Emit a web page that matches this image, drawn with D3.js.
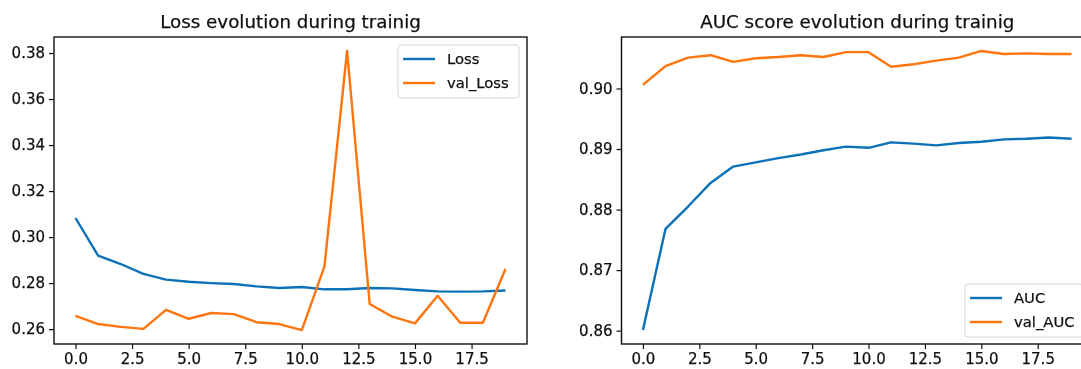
<!DOCTYPE html>
<html>
<head>
<meta charset="utf-8">
<script src="https://cdn.jsdelivr.net/npm/d3@7"></script>
<style>
    body { margin: 0; background: #fff; }
    svg { display: block; font-family: "DejaVu Sans", sans-serif; }
</style>
</head>
<body>
<div class="chart"></div>
<script>
// epochs on the x axis
var epochs = [0,1,2,3,4,5,6,7,8,9,10,11,12,13,14,15,16,17,18,19];

// left panel
var loss =    [0.3083,0.2919,0.2883,0.2840,0.2815,0.2806,0.2800,0.2796,0.2786,0.2779,
               0.2783,0.2773,0.2773,0.2779,0.2777,0.2770,0.2764,0.2763,0.2764,0.2768];
var valLoss = [0.2658,0.2622,0.2610,0.2601,0.2684,0.2645,0.2670,0.2665,0.2630,0.2622,
               0.2596,0.2873,0.3809,0.2709,0.2654,0.2625,0.2745,0.2628,0.2628,0.2861];

// right panel
var auc =    [0.8601,0.8768,0.8805,0.8844,0.8871,0.8878,0.8885,0.8891,0.8898,0.8904,
              0.8902,0.8911,0.8909,0.8906,0.8910,0.8912,0.8916,0.8917,0.8919,0.8917];
var valAuc = [0.9006,0.9037,0.9051,0.9055,0.9044,0.9050,0.9052,0.9055,0.9052,0.9060,
              0.9060,0.9036,0.9040,0.9046,0.9051,0.9062,0.9057,0.9058,0.9057,0.9057];

var xTicks = [0,2.5,5,7.5,10,12.5,15,17.5];
var lossTicks = [0.26,0.28,0.30,0.32,0.34,0.36,0.38];
var aucTicks = [0.86,0.87,0.88,0.89,0.90];

var blue = '#0a71b8', orange = '#ff7410';

var svg = d3.select('.chart').append('svg')
    .attr('width', 1081)
    .attr('height', 369);

svg.append('rect').attr('width', 1081).attr('height', 369).attr('fill', '#fff');

// the source picture is a bit soft, blur a little
svg.append('defs').append('filter')
    .attr('id', 'soft')
    .append('feGaussianBlur').attr('stdDeviation', 0.4);

var root = svg.append('g').attr('filter', 'url(#soft)');

drawPanel({
    left: 54, right: 527, top: 37, bottom: 344,
    title: 'Loss evolution during trainig',
    series: [{name: 'Loss', values: loss, color: blue}, {name: 'val_Loss', values: valLoss, color: orange}],
    yTicks: lossTicks,
    legend: {x: 398, y: 45, w: 121, h: 53}
});
drawPanel({
    left: 621.5, right: 1093, top: 37, bottom: 344,
    title: 'AUC score evolution during trainig',
    series: [{name: 'AUC', values: auc, color: blue}, {name: 'val_AUC', values: valAuc, color: orange}],
    yTicks: aucTicks,
    legend: {x: 965, y: 284, w: 118, h: 53}
});

function drawPanel(p) {
    var all = [];
    p.series.forEach(function(s){ all = all.concat(s.values); });
    var ext = d3.extent(all), pad = (ext[1]-ext[0])*0.05;
    var xPad = (d3.max(epochs)-d3.min(epochs))*0.05;

    var x = d3.scaleLinear()
        .domain([d3.min(epochs)-xPad, d3.max(epochs)+xPad])
        .range([p.left, p.right]);
    var y = d3.scaleLinear()
        .domain([ext[0]-pad, ext[1]+pad])
        .range([p.bottom, p.top]);

    var g = root.append('g');

    var line = d3.line()
        .x(function(d, i){ return x(epochs[i]); })
        .y(function(d){ return y(d); });

    p.series.forEach(function(s){
        g.append('path')
            .datum(s.values)
            .attr('fill', 'none')
            .attr('stroke', s.color)
            .attr('stroke-width', 2.4)
            .attr('stroke-linejoin', 'round')
            .attr('d', line);
    });

    var xAxis = g.append('g')
        .attr('transform', 'translate(0,' + p.bottom + ')')
        .call(d3.axisBottom(x).tickValues(xTicks).tickFormat(d3.format('.1f')).tickSize(5).tickPadding(4));
    var yAxis = g.append('g')
        .attr('transform', 'translate(' + p.left + ',0)')
        .call(d3.axisLeft(y).tickValues(p.yTicks).tickFormat(d3.format('.2f')).tickSize(5).tickPadding(4));
    [xAxis, yAxis].forEach(function(a){
        a.select('.domain').remove();
        a.selectAll('text').attr('font-size', 15).attr('fill', '#111')
            .attr('stroke', '#111').attr('stroke-width', 0.25)
            .attr('font-family', 'DejaVu Sans');
        a.selectAll('line').attr('stroke', '#111').attr('stroke-width', 1.2);
    });

    // frame
    g.append('rect')
        .attr('x', p.left).attr('y', p.top)
        .attr('width', p.right-p.left).attr('height', p.bottom-p.top)
        .attr('fill', 'none').attr('stroke', '#111').attr('stroke-width', 1.4);

    g.append('text')
        .attr('x', (p.left+p.right)/2)
        .attr('y', 27.5)
        .attr('text-anchor', 'middle')
        .attr('font-size', 18.3)
        .attr('fill', '#111')
        .attr('stroke', '#111').attr('stroke-width', 0.25)
        .text(p.title);

    var lg = g.append('g').attr('transform', 'translate(' + p.legend.x + ',' + p.legend.y + ')');
    lg.append('rect')
        .attr('width', p.legend.w).attr('height', p.legend.h)
        .attr('rx', 3)
        .attr('fill', '#fff').attr('fill-opacity', 0.8)
        .attr('stroke', '#d6d6d6');
    p.series.forEach(function(s, i){
        var ly = 14 + i*24;
        lg.append('line')
            .attr('x1', 5).attr('x2', 37)
            .attr('y1', ly).attr('y2', ly)
            .attr('stroke', s.color).attr('stroke-width', 2.4);
        lg.append('text')
            .attr('x', 49).attr('y', ly + 5)
            .attr('font-size', 14.8)
            .attr('fill', '#111')
            .attr('stroke', '#111').attr('stroke-width', 0.25)
            .text(s.name);
    });
}
</script>
</body>
</html>
